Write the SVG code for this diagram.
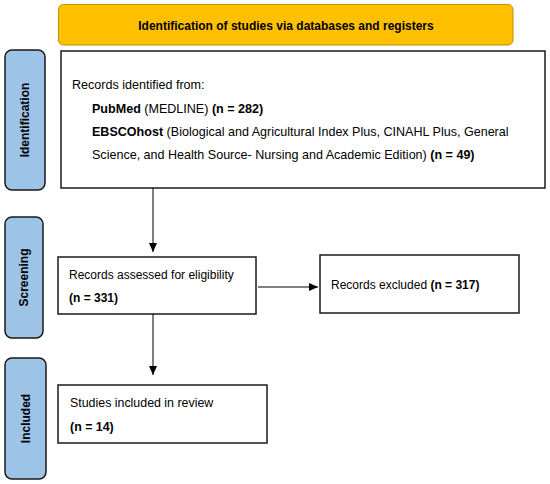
<svg xmlns="http://www.w3.org/2000/svg" width="550" height="484" viewBox="0 0 550 484">
<style>
text{font-family:"Liberation Sans",Arial,sans-serif;font-size:12px;fill:#000}
.b{font-weight:bold}
.big{font-size:12.55px}
.box{fill:#fff;stroke:#1a1a1a;stroke-width:1.5}
.side{fill:#9DC3E6;stroke:#1a1a1a;stroke-width:1.5}
.conn{stroke:#000;stroke-width:1;fill:none}
</style>
<defs>
<marker id="ah" markerWidth="10" markerHeight="10" refX="9" refY="5" orient="auto" markerUnits="userSpaceOnUse">
<path d="M0,1 L9,5 L0,9 Z" fill="#000"/>
</marker>
</defs>
<rect width="550" height="484" fill="#fff"/>
<g id="banner">
<rect x="58.5" y="4.5" width="454.5" height="40.5" rx="5" fill="#FFC000" stroke="#BF9000" stroke-width="1"/>
<text class="b" x="286" y="30" text-anchor="middle">Identification of studies via databases and registers</text>
</g>
<g id="side-identification">
<rect class="side" x="5" y="50" width="40" height="140" rx="7"/>
<text class="b" transform="translate(29,120) rotate(-90)" text-anchor="middle">Identification</text>
</g>
<g id="side-screening">
<rect class="side" x="5" y="217" width="38" height="121" rx="7"/>
<text class="b" transform="translate(28,277.5) rotate(-90)" text-anchor="middle">Screening</text>
</g>
<g id="side-included">
<rect class="side" x="5" y="358" width="41" height="121" rx="7"/>
<text class="b" transform="translate(30,418.5) rotate(-90)" text-anchor="middle">Included</text>
</g>
<g id="records-identified">
<rect class="box" x="61" y="51" width="484" height="137"/>
<text class="big" x="72" y="89">Records identified from:</text>
<text class="big" x="92" y="113"><tspan class="b">PubMed</tspan> (MEDLINE) <tspan class="b">(n = 282)</tspan></text>
<text class="big" x="92" y="136"><tspan class="b">EBSCOhost</tspan> (Biological and Agricultural Index Plus, CINAHL Plus, General</text>
<text class="big" x="92" y="159">Science, and Health Source- Nursing and Academic Edition) <tspan class="b">(n = 49)</tspan></text>
</g>
<g id="records-assessed">
<rect class="box" x="58" y="257" width="198" height="57"/>
<text x="69" y="279">Records assessed for eligibility</text>
<text class="b" x="69" y="302">(n = 331)</text>
</g>
<g id="records-excluded">
<rect class="box" x="320" y="255" width="199" height="58"/>
<text x="331" y="289">Records excluded <tspan class="b">(n = 317)</tspan></text>
</g>
<g id="studies-included">
<rect class="box" x="58" y="385" width="209" height="58"/>
<text x="70" y="407" style="font-size:12.4px">Studies included in review</text>
<text class="b" x="70" y="431" style="font-size:12.4px">(n = 14)</text>
</g>
<g id="connectors">
<line class="conn" x1="153" y1="188" x2="153" y2="252" marker-end="url(#ah)"/>
<line class="conn" x1="258" y1="287" x2="318" y2="287" marker-end="url(#ah)"/>
<line class="conn" x1="153" y1="314" x2="153" y2="375" marker-end="url(#ah)"/>
</g>
</svg>
